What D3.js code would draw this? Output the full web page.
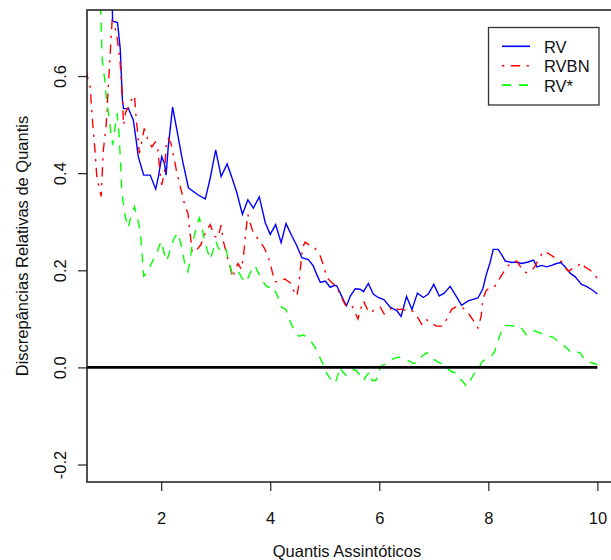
<!DOCTYPE html>
<html>
<head>
<meta charset="utf-8">
<script src="https://cdn.jsdelivr.net/npm/d3@7"></script>
<style>
  html, body { margin: 0; padding: 0; background: #fff; }
  svg { display: block; }
  text { font-family: "Liberation Sans", Arial, sans-serif; fill: #111; }
</style>
</head>
<body>
<svg id="chart" width="611" height="560"></svg>
<script>
// Relative quantile discrepancies against the asymptotic quantiles
const rv = [
  [1.08,0.85],[1.11,0.713],[1.20,0.71],[1.25,0.656],[1.29,0.55],[1.31,0.533],[1.40,0.533],
  [1.49,0.509],[1.55,0.461],[1.58,0.434],[1.68,0.396],[1.80,0.396],[1.90,0.367],[1.95,0.393],
  [2.01,0.434],[2.06,0.420],[2.09,0.396],[2.13,0.454],[2.21,0.536],[2.29,0.488],[2.39,0.427],
  [2.50,0.370],[2.68,0.355],[2.81,0.347],[2.90,0.390],[3.00,0.448],[3.10,0.393],[3.21,0.419],
  [3.30,0.390],[3.39,0.359],[3.49,0.315],[3.59,0.345],[3.69,0.328],[3.80,0.351],[3.91,0.298],
  [4.00,0.274],[4.10,0.294],[4.20,0.257],[4.29,0.296],[4.40,0.270],[4.49,0.250],[4.58,0.226],
  [4.70,0.222],[4.79,0.209],[4.85,0.192],[4.92,0.175],[5.01,0.178],[5.10,0.165],[5.18,0.169],
  [5.22,0.168],[5.28,0.154],[5.36,0.135],[5.40,0.127],[5.47,0.147],[5.56,0.162],[5.65,0.161],
  [5.71,0.156],[5.80,0.173],[5.89,0.151],[5.98,0.144],[6.09,0.139],[6.20,0.124],[6.32,0.117],
  [6.40,0.105],[6.50,0.146],[6.60,0.119],[6.70,0.153],[6.81,0.144],[6.90,0.151],[7.00,0.171],
  [7.10,0.147],[7.19,0.153],[7.30,0.167],[7.41,0.147],[7.51,0.128],[7.63,0.137],[7.81,0.143],
  [7.90,0.162],[7.96,0.190],[8.03,0.215],[8.09,0.243],[8.18,0.243],[8.25,0.231],[8.31,0.219],
  [8.43,0.216],[8.52,0.217],[8.61,0.214],[8.73,0.217],[8.83,0.221],[8.89,0.207],[8.98,0.210],
  [9.07,0.207],[9.16,0.210],[9.25,0.214],[9.33,0.216],[9.41,0.207],[9.50,0.194],[9.59,0.187],
  [9.71,0.171],[9.80,0.167],[9.90,0.160],[10.0,0.151]
];

const rvbn = [
  [0.60,0.63],[0.64,0.601],[0.70,0.577],[0.73,0.523],[0.76,0.482],[0.79,0.441],[0.82,0.393],
  [0.86,0.372],[0.90,0.352],[0.94,0.448],[0.99,0.495],[1.03,0.577],[1.065,0.645],[1.10,0.713],
  [1.13,0.707],[1.17,0.693],[1.20,0.673],[1.25,0.625],[1.29,0.55],[1.31,0.499],[1.35,0.526],
  [1.40,0.536],[1.45,0.550],[1.51,0.560],[1.54,0.516],[1.57,0.482],[1.60,0.441],[1.65,0.468],
  [1.69,0.492],[1.76,0.468],[1.83,0.454],[1.89,0.464],[1.94,0.448],[1.98,0.400],[2.01,0.376],
  [2.06,0.400],[2.10,0.468],[2.13,0.471],[2.18,0.461],[2.23,0.434],[2.29,0.400],[2.38,0.359],
  [2.44,0.331],[2.49,0.318],[2.53,0.277],[2.57,0.237],[2.66,0.243],[2.73,0.253],[2.82,0.280],
  [2.90,0.294],[2.98,0.270],[3.04,0.267],[3.10,0.293],[3.14,0.260],[3.21,0.229],[3.27,0.205],
  [3.31,0.185],[3.36,0.202],[3.41,0.214],[3.47,0.202],[3.51,0.229],[3.55,0.277],[3.59,0.315],
  [3.63,0.298],[3.69,0.277],[3.76,0.267],[3.83,0.257],[3.89,0.246],[3.96,0.229],[4.02,0.205],
  [4.08,0.176],[4.18,0.178],[4.27,0.182],[4.37,0.174],[4.43,0.158],[4.49,0.147],[4.53,0.175],
  [4.57,0.222],[4.59,0.246],[4.64,0.258],[4.73,0.251],[4.82,0.246],[4.92,0.229],[4.98,0.209],
  [5.04,0.185],[5.13,0.175],[5.20,0.168],[5.25,0.158],[5.31,0.144],[5.37,0.130],[5.42,0.124],
  [5.50,0.127],[5.56,0.112],[5.61,0.100],[5.65,0.117],[5.71,0.137],[5.77,0.122],[5.83,0.112],
  [5.92,0.119],[6.02,0.124],[6.09,0.110],[6.18,0.117],[6.26,0.126],[6.35,0.119],[6.41,0.120],
  [6.49,0.117],[6.57,0.119],[6.64,0.113],[6.72,0.100],[6.79,0.087],[6.87,0.098],[6.96,0.091],
  [7.05,0.085],[7.16,0.085],[7.24,0.100],[7.33,0.120],[7.44,0.126],[7.54,0.122],[7.63,0.112],
  [7.73,0.096],[7.81,0.081],[7.87,0.106],[7.90,0.141],[7.96,0.158],[8.03,0.165],[8.12,0.167],
  [8.20,0.182],[8.28,0.196],[8.36,0.209],[8.43,0.216],[8.52,0.219],[8.58,0.209],[8.64,0.198],
  [8.70,0.195],[8.80,0.200],[8.86,0.209],[8.92,0.222],[9.01,0.239],[9.10,0.235],[9.19,0.228],
  [9.28,0.222],[9.35,0.217],[9.41,0.205],[9.47,0.198],[9.56,0.205],[9.65,0.210],[9.71,0.216],
  [9.77,0.207],[9.87,0.200],[9.94,0.192],[10.0,0.183]
];

const rvStar = [
  [0.86,0.85],[0.92,0.632],[0.96,0.597],[1.00,0.550],[1.05,0.509],[1.08,0.482],[1.11,0.458],
  [1.14,0.482],[1.19,0.523],[1.22,0.495],[1.25,0.434],[1.28,0.359],[1.33,0.318],[1.39,0.287],
  [1.45,0.311],[1.51,0.331],[1.60,0.291],[1.63,0.263],[1.68,0.188],[1.74,0.195],[1.83,0.216],
  [1.92,0.236],[2.00,0.260],[2.07,0.229],[2.10,0.219],[2.17,0.243],[2.24,0.267],[2.31,0.277],
  [2.37,0.250],[2.43,0.216],[2.49,0.197],[2.53,0.222],[2.57,0.253],[2.62,0.277],[2.67,0.298],
  [2.70,0.308],[2.75,0.287],[2.79,0.263],[2.84,0.243],[2.90,0.222],[2.96,0.243],[3.00,0.260],
  [3.05,0.246],[3.11,0.236],[3.19,0.243],[3.23,0.222],[3.30,0.195],[3.36,0.188],[3.43,0.195],
  [3.49,0.182],[3.55,0.175],[3.61,0.188],[3.66,0.202],[3.72,0.210],[3.78,0.195],[3.85,0.182],
  [3.91,0.169],[3.97,0.165],[4.04,0.168],[4.12,0.151],[4.21,0.124],[4.29,0.119],[4.33,0.106],
  [4.37,0.093],[4.40,0.086],[4.46,0.072],[4.53,0.064],[4.61,0.067],[4.69,0.059],[4.76,0.052],
  [4.84,0.038],[4.92,0.018],[4.98,0.004],[5.04,-0.013],[5.10,-0.023],[5.16,-0.027],[5.19,-0.033],
  [5.24,-0.016],[5.28,0.001],[5.32,-0.008],[5.39,-0.016],[5.45,-0.009],[5.53,-0.004],[5.59,-0.008],
  [5.65,-0.016],[5.71,-0.027],[5.77,-0.016],[5.83,-0.009],[5.87,-0.027],[5.94,-0.027],[5.98,-0.009],
  [6.05,0.004],[6.14,0.008],[6.26,0.018],[6.35,0.021],[6.44,0.020],[6.53,0.014],[6.63,0.008],
  [6.71,0.011],[6.78,0.023],[6.87,0.030],[6.93,0.026],[7.01,0.016],[7.08,0.011],[7.18,0.006],
  [7.26,-0.003],[7.33,-0.009],[7.40,-0.011],[7.48,-0.023],[7.56,-0.033],[7.60,-0.040],[7.67,-0.027],
  [7.74,-0.013],[7.82,-0.003],[7.88,0.011],[7.94,0.016],[8.03,0.020],[8.11,0.031],[8.17,0.052],
  [8.23,0.072],[8.29,0.086],[8.40,0.086],[8.49,0.085],[8.58,0.085],[8.64,0.076],[8.70,0.067],
  [8.77,0.072],[8.83,0.076],[8.92,0.072],[9.01,0.069],[9.10,0.065],[9.19,0.062],[9.28,0.053],
  [9.38,0.045],[9.46,0.038],[9.52,0.030],[9.60,0.033],[9.68,0.030],[9.74,0.021],[9.80,0.014],
  [9.88,0.010],[9.94,0.008],[10.0,0.005]
];

const xLimits = [1, 10];
const yLimits = [-0.2, 0.7];
const xTicks = [2, 4, 6, 8, 10];
const yTicks = [-0.2, 0.0, 0.2, 0.4, 0.6];
const seriesNames = ["RV", "RVBN", "RV*"];
const seriesColors = ["#0000ff", "#ff0000", "#00ff00"];
const seriesDashes = [null, "2.3,6.5,9.3,6.5", "9,8"];
const xTitle = "Quantis Assintóticos";
const yTitle = "Discrepâncias Relativas de Quantis";

// Axis ranges padded by 4% on each side
const pad = ([lo, hi]) => [lo - 0.04 * (hi - lo), hi + 0.04 * (hi - lo)];

const plot = { left: 87, right: 617, top: 10, bottom: 482 };
const svg = d3.select("#chart");
svg.append("rect").attr("width", 611).attr("height", 560).attr("fill", "#fff");

const x = d3.scaleLinear().domain(pad(xLimits)).range([plot.left, plot.right]);
const y = d3.scaleLinear().domain(pad(yLimits)).range([plot.bottom, plot.top]);

svg.append("clipPath").attr("id", "plotClip")
  .append("rect")
  .attr("x", plot.left).attr("y", plot.top)
  .attr("width", plot.right - plot.left).attr("height", plot.bottom - plot.top);

const fontSize = "16.5px";

// x axis
const xAxis = svg.append("g")
  .attr("transform", `translate(0,${plot.bottom})`)
  .call(d3.axisBottom(x).tickValues(xTicks).tickSize(9).tickFormat(d => String(d)));
xAxis.select(".domain").remove();
xAxis.selectAll(".tick line").attr("stroke", "#333").attr("stroke-width", 1.3);
xAxis.selectAll(".tick text")
  .attr("y", 42).attr("dy", 0)
  .style("font-size", fontSize).attr("fill", "#111");

// y axis with labels turned parallel to the axis (plain hyphen for negatives)
const yAxis = svg.append("g")
  .attr("transform", `translate(${plot.left},0)`)
  .call(d3.axisLeft(y).tickValues(yTicks).tickSize(9).tickFormat(d => d.toFixed(1)));
yAxis.select(".domain").remove();
yAxis.selectAll(".tick line").attr("stroke", "#333").attr("stroke-width", 1.3);
yAxis.selectAll(".tick text")
  .attr("transform", "rotate(-90)")
  .attr("x", 0).attr("y", -21).attr("dy", 0)
  .attr("text-anchor", "middle")
  .style("font-size", fontSize).attr("fill", "#111");

// series lines
const line = d3.line().x(d => x(d[0])).y(d => y(d[1]));
const seriesData = [rv, rvbn, rvStar];
const lines = svg.append("g").attr("clip-path", "url(#plotClip)");
seriesData.forEach((data, i) => {
  lines.append("path")
    .datum(data)
    .attr("d", line)
    .attr("fill", "none")
    .attr("stroke", seriesColors[i])
    .attr("stroke-width", 1.4)
    .attr("stroke-dasharray", seriesDashes[i]);
});

// reference line at zero
lines.append("line")
  .attr("x1", x(pad(xLimits)[0])).attr("x2", x(10))
  .attr("y1", y(0)).attr("y2", y(0))
  .attr("stroke", "#000").attr("stroke-width", 2.6);

// plot frame
svg.append("rect")
  .attr("x", plot.left).attr("y", plot.top)
  .attr("width", plot.right - plot.left).attr("height", plot.bottom - plot.top)
  .attr("fill", "none").attr("stroke", "#1a1a1a").attr("stroke-width", 1.5);

// axis titles
svg.append("text")
  .attr("x", (plot.left + 597) / 2 + 5).attr("y", 557)
  .attr("text-anchor", "middle").style("font-size", fontSize)
  .text(xTitle);
svg.append("text")
  .attr("transform", `translate(28,${(plot.top + plot.bottom) / 2}) rotate(-90)`)
  .attr("text-anchor", "middle").style("font-size", fontSize)
  .text(yTitle);

// legend
const legend = svg.append("g");
legend.append("rect")
  .attr("x", 488.5).attr("y", 27.5).attr("width", 110.5).attr("height", 77.5)
  .attr("fill", "#fff").attr("stroke", "#333").attr("stroke-width", 1.3);
seriesNames.forEach((name, i) => {
  const ry = 46.3 + i * 19.4;
  legend.append("line")
    .attr("x1", 502).attr("x2", 530).attr("y1", ry).attr("y2", ry)
    .attr("stroke", seriesColors[i]).attr("stroke-width", 1.6)
    .attr("stroke-dasharray", seriesDashes[i]);
  legend.append("text")
    .attr("x", 544).attr("y", ry + 6.5)
    .style("font-size", fontSize)
    .text(name);
});
</script>
</body>
</html>
